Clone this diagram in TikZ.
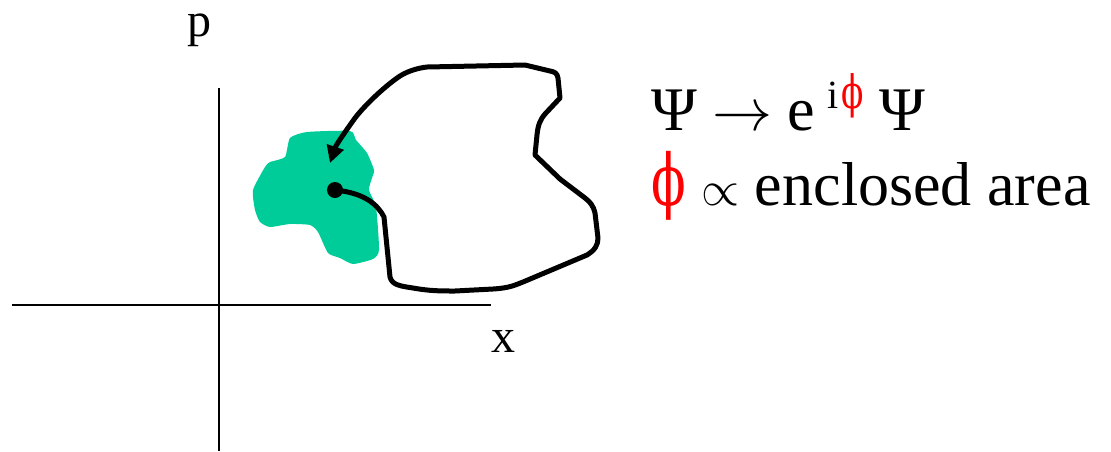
\documentclass[tikz,border=0pt]{standalone}
\usepackage{fontspec}
\usepackage{graphicx}
\setmainfont{Liberation Serif}
\newfontfamily\phifont{DejaVu Serif}
\usetikzlibrary{arrows.meta}
\definecolor{blobgreen}{HTML}{00CC99}
\newcommand{\redphi}{\textcolor{red}{\scalebox{0.82}[1.15]{\phifont ϕ}}}
\newcommand{\bigarrow}{{\fontsize{10}{12}\selectfont\scalebox{6.0}{$\rightarrow$}}}
\newcommand{\bigpropto}{{\fontsize{10}{12}\selectfont\scalebox{4.9}{$\propto$}}}
\begin{document}
\begin{tikzpicture}[x=1pt,y=-1pt,
  axis/.style={line width=1.7pt},
  loopline/.style={line width=5pt,line join=round,line cap=round},
  lbl/.style={inner sep=0pt,anchor=base west,font=\fontsize{48}{52}\selectfont},
  formula/.style={inner sep=0pt,anchor=base west,font=\fontsize{62}{66}\selectfont}]
\useasboundingbox (0,0) rectangle (1111,451);
% axes
\coordinate (xl) at (12,305);
\coordinate (xr) at (491,305);
\coordinate (yt) at (219,88);
\coordinate (yb) at (219,451);
\draw[axis] (xl) -- (xr);
\draw[axis] (yt) -- (yb);
\node[lbl] (p) at (187,36) {p};
\node[lbl] (x) at (491,352) {x};
% green blob
\fill[blobgreen] plot[smooth cycle,tension=0.35] coordinates {
 (290,138) (307,132) (350,131) (356,140) (367,153) (374,170) (372,178)
 (369,190) (376,207) (379,250) (373,259) (353,264) (340,258) (328,253)
 (318,232) (310,225) (290,224) (270,227) (260,222) (255,210) (253,190)
 (265,167) (270,162) (285,157)};
% loop path
\node[circle,fill=black,inner sep=0pt,minimum size=16pt] (dot) at (335,190) {};
\coordinate (tip) at (330,163);
\draw[loopline,-{Triangle[length=17pt,width=17pt]}] (dot.center)
  .. controls (365,193) and (378,205) .. (384,217)
  -- (390,277) .. controls (392,285) and (400,286) .. (413,288)
  .. controls (430,291) and (440,291) .. (455,291)
  -- (493,289) .. controls (510,288) and (515,285) .. (523,282)
  -- (587,255) .. controls (595,250) and (598,245) .. (598,238)
  -- (595,213) .. controls (593,205) and (590,202) .. (585,198)
  -- (560,179) -- (535,155) -- (537,135) .. controls (538,125) and (540,120) .. (545,114)
  -- (560,98) -- (558,78) .. controls (557,73) and (555,72) .. (550,71)
  -- (525,65) -- (427,67) .. controls (418,68) and (408,71) .. (400,76)
  .. controls (385,86) and (365,105) .. (355,118)
  .. controls (345,132) and (336,145) .. (tip);
% formulas
\node[formula] (f1) at (651,130) {Ψ \bigarrow\ e\hspace{12pt}\raisebox{22pt}{\fontsize{40}{44}\selectfont i\hspace{3pt}\redphi}\hspace{16pt}Ψ};
\node[formula] (f2) at (651,205) {\redphi\ \bigpropto\ enclosed area};
\end{tikzpicture}
\end{document}
